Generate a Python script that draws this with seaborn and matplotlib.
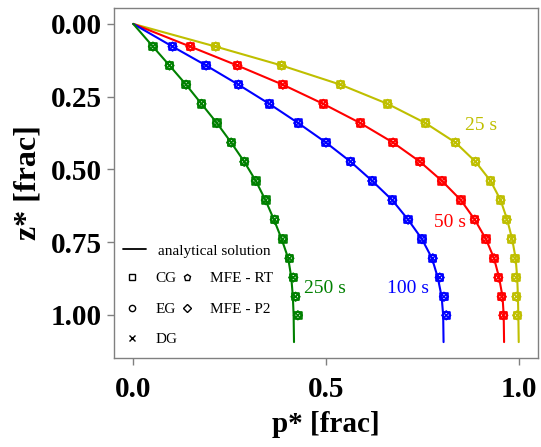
import matplotlib
matplotlib.use("Agg")
import matplotlib.pyplot as plt
from matplotlib.lines import Line2D
import seaborn as sns

sns.set_theme(style="white", color_codes=False,
              rc={"text.color": "black", "axes.labelcolor": "black",
                  "xtick.color": "black", "ytick.color": "black"})
plt.rcParams['font.family'] = ['Liberation Serif', 'DejaVu Serif']

# depth of the analytical lines and of the numerical points
z_line = [0.0, 0.078, 0.143, 0.209, 0.275, 0.341, 0.408, 0.474, 0.540, 0.606,
          0.673, 0.740, 0.806, 0.872, 0.938, 1.002, 1.094]
z_pts = [0.078, 0.143, 0.209, 0.275, 0.341, 0.408, 0.474, 0.540, 0.606,
         0.673, 0.740, 0.806, 0.872, 0.938, 1.002]

# analytical solution, p* at z_line
p_25_line = [0.0, 0.214, 0.385, 0.538, 0.660, 0.758, 0.836, 0.888, 0.927, 0.953,
             0.970, 0.983, 0.992, 0.996, 0.998, 0.999, 1.0]
p_50_line = [0.0, 0.148, 0.270, 0.388, 0.493, 0.589, 0.674, 0.744, 0.801, 0.850,
             0.886, 0.915, 0.936, 0.949, 0.958, 0.961, 0.962]
p_100_line = [0.0, 0.102, 0.189, 0.273, 0.353, 0.428, 0.500, 0.564, 0.620, 0.672,
              0.713, 0.749, 0.775, 0.790, 0.800, 0.804, 0.805]
p_250_line = [0.0, 0.051, 0.094, 0.137, 0.177, 0.217, 0.254, 0.288, 0.318, 0.343,
              0.365, 0.385, 0.402, 0.410, 0.414, 0.416, 0.417]

# numerical solutions (CG, EG, DG, MFE-RT, MFE-P2 overlap), p* at z_pts
p_25_pts = [0.214, 0.385, 0.538, 0.660, 0.758, 0.836, 0.888, 0.927, 0.953,
            0.969, 0.981, 0.990, 0.993, 0.994, 0.996]
p_50_pts = [0.148, 0.270, 0.388, 0.493, 0.589, 0.674, 0.744, 0.801, 0.850,
            0.886, 0.915, 0.936, 0.947, 0.956, 0.960]
p_100_pts = [0.102, 0.189, 0.273, 0.353, 0.428, 0.500, 0.564, 0.620, 0.672,
             0.713, 0.749, 0.777, 0.795, 0.806, 0.812]
p_250_pts = [0.051, 0.094, 0.137, 0.177, 0.217, 0.254, 0.288, 0.318, 0.344,
             0.367, 0.388, 0.405, 0.415, 0.421, 0.427]

times = ["25 s", "50 s", "100 s", "250 s"]
colors = ["#bfbf00", "#ff0000", "#0000ff", "#008000"]
lines = [p_25_line, p_50_line, p_100_line, p_250_line]
points = [p_25_pts, p_50_pts, p_100_pts, p_250_pts]
label_pos = [(0.902, 0.35), (0.821, 0.682), (0.713, 0.909), (0.497, 0.909)]

methods = ["CG", "EG", "DG", "MFE - RT", "MFE - P2"]
method_markers = ["s", "o", "x", "p", "D"]

fig = plt.figure(figsize=(5.41, 4.47), dpi=100)
ax = fig.add_axes([114 / 541, 1 - 358 / 447, 424 / 541, 350 / 447])

for t, c, pl, pp, pos in zip(times, colors, lines, points, label_pos):
    sns.lineplot(x=pl, y=z_line, sort=False, color=c, linewidth=1.5, ax=ax)
    for m in method_markers:
        size = 20 if m == "D" else 28
        sns.scatterplot(x=pp, y=z_pts, marker=m, s=size, color=c, linewidth=1.1, ax=ax)
        coll = ax.collections[-1]
        coll.set_facecolor("none")
        coll.set_edgecolor(c)
    ax.text(pos[0], pos[1], t, color=c, fontsize=14, ha="center", va="center")

ax.invert_yaxis()
ax.set_xticks([0.0, 0.5, 1.0])
ax.set_xticklabels(["0.0", "0.5", "1.0"])
ax.set_yticks([0.0, 0.25, 0.5, 0.75, 1.0])
ax.set_yticklabels(["0.00", "0.25", "0.50", "0.75", "1.00"])
ax.tick_params(axis="both", which="major", length=5, width=1, color="#808080",
               labelcolor="black", labelsize=21, bottom=True, left=True,
               direction="out")
ax.tick_params(axis="x", pad=8)
ax.tick_params(axis="y", pad=4)
for lab in ax.get_xticklabels() + ax.get_yticklabels():
    lab.set_fontweight("bold")
for sp in ax.spines.values():
    sp.set_color("#808080")
    sp.set_linewidth(1.0)
ax.set_xlabel("p* [frac]", fontsize=21, fontweight="bold", labelpad=6)
ax.set_ylabel("z* [frac]", fontsize=23, fontweight="bold", labelpad=6)

leg1 = ax.legend(handles=[Line2D([], [], color="k", linewidth=1.3)],
                 labels=["analytical solution"], loc="center left",
                 bbox_to_anchor=(0.004, 0.306), frameon=False, borderpad=0,
                 handlelength=1.5, handletextpad=0.75, fontsize=11)
ax.add_artist(leg1)

handles = [Line2D([], [], linestyle="none", marker=m, markersize=4.5 if m != "D" else 3.8,
                  markerfacecolor="none", markeredgecolor="k", color="k",
                  markeredgewidth=1.0) for m in method_markers]
ax.legend(handles=handles, labels=methods, ncol=2, loc="center left",
          bbox_to_anchor=(0.006, 0.14), frameon=False, borderpad=0,
          handlelength=1.0, handletextpad=1.05, columnspacing=0.1,
          labelspacing=1.1, fontsize=11)

fig.savefig("out.png", dpi=100)
